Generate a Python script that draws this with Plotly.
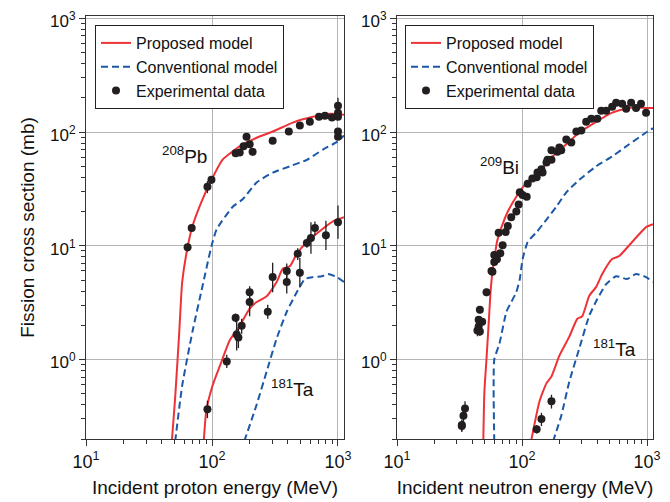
import plotly.graph_objects as go
import math

# ---------------- data ----------------
# Left panel: proton-induced fission
pb_prop_E = [48, 51, 55, 58, 64, 70, 82, 99, 121, 166, 226, 304, 438, 632, 864, 1116]
pb_prop_S = [0.19, 0.46, 1.76, 4.8, 9.7, 14.9, 24, 38, 57, 75, 89, 101, 121, 136, 145, 142]

pb_conv_E = [51, 58, 70, 84, 99, 109, 146, 175, 226, 304, 415, 567, 759, 982, 1116]
pb_conv_S = [0.19, 0.59, 1.76, 4.4, 9.9, 14, 22, 25.6, 36, 44, 50, 57, 70, 82, 93]

pb_exp_E = [64, 69, 92, 99, 154, 166, 178, 188, 199, 210, 303, 407, 498, 598, 706, 788, 895, 1000, 1000, 1000, 1000, 1000]
pb_exp_S = [9.7, 14.3, 33, 38, 65, 66, 75, 91, 78, 67, 84, 101, 114, 123, 136, 139, 134, 170, 148, 136, 101, 91]
pb_err_up = [0.8, 1.0, 4, 3, 4, 4, 5, 6, 5, 5, 5, 5, 6, 6, 6, 6, 6, 30, 10, 8, 6, 6]
pb_err_dn = [0.8, 1.0, 4, 3, 4, 4, 5, 6, 5, 5, 5, 5, 6, 6, 6, 6, 6, 20, 10, 8, 6, 6]

ta_p_prop_E = [86, 90, 101, 119, 138, 166, 199, 226, 272, 326, 365, 415, 471, 566, 719, 912, 1116]
ta_p_prop_S = [0.19, 0.35, 0.59, 0.96, 1.47, 1.98, 2.8, 3.2, 3.6, 4.8, 6.3, 6.6, 8.5, 10.8, 13.5, 16.4, 17.8]

ta_p_conv_E = [180, 226, 272, 326, 392, 471, 546, 632, 746, 832, 982, 1116]
ta_p_conv_S = [0.19, 0.4, 0.79, 1.53, 2.63, 3.9, 5.1, 5.3, 5.4, 5.65, 5.3, 4.8]

ta_p_exp_E = [92, 131, 154, 157, 162, 172, 199, 199, 277, 303, 392, 392, 479, 498, 566, 610, 656, 802, 1000]
ta_p_exp_S = [0.365, 0.96, 2.33, 1.66, 1.56, 1.98, 3.2, 3.9, 2.63, 5.3, 4.8, 6.0, 8.5, 5.8, 10.6, 11.7, 14.3, 12.4, 16.1]
ta_p_err_up = [0.07, 0.14, 0.2, 0.63, 0.3, 0.3, 0.8, 0.5, 0.4, 1.8, 1.0, 1.0, 1.0, 2.0, 1.0, 4.4, 2.0, 4.2, 6.5]
ta_p_err_dn = [0.06, 0.12, 0.2, 0.46, 0.3, 0.3, 0.8, 0.5, 0.35, 1.4, 1.0, 1.0, 1.0, 1.5, 1.0, 3.2, 2.0, 3.2, 4.6]

# Right panel: neutron-induced fission
bi_prop_E = [49, 50, 52, 54, 56, 58, 60, 63, 69, 77, 90, 109, 138, 175, 226, 287, 392, 526, 719, 982, 1116]
bi_prop_S = [0.19, 0.52, 1.02, 2.0, 3.9, 5.9, 7.6, 10.8, 14.9, 20, 27, 36, 45, 61, 78, 99, 123, 148, 163, 163, 163]

bi_conv_E = [60, 60, 66, 75, 82, 90, 96, 101, 111, 131, 157, 188, 226, 287, 392, 526, 719, 982, 1116]
bi_conv_S = [0.19, 1.0, 1.38, 2.63, 3.2, 3.9, 5.1, 7.6, 10.8, 13.2, 17, 22, 29.5, 38, 50, 61, 78, 99, 108]

bi_exp_E = [33, 33, 34, 35, 44, 45, 45, 46, 46, 48, 52, 57, 58, 60, 60, 63, 65, 67, 70, 74,
            77, 82, 90, 94, 96, 101, 109, 111, 121, 131, 133, 143, 146, 157, 160, 172, 172, 192, 199, 206,
            226, 248, 272, 298, 326, 358, 400, 430, 471, 526, 566, 632, 681, 746, 817, 895, 982]
bi_exp_S = [0.26, 0.265, 0.32, 0.37, 1.8, 1.95, 2.24, 1.76, 2.74, 2.15, 3.9, 6.0, 5.9, 7.2, 8.3, 7.6, 13, 8.6, 10.1, 13.2,
            14.9, 17.8, 20, 23, 29.5, 28, 27, 35, 39, 40, 44, 47, 44, 54, 57, 57, 69, 67, 73, 69,
            86, 81, 101, 103, 123, 131, 131, 154, 154, 167, 181, 177, 160, 181, 163, 177, 148]
bi_err = [0.03, 0.03, 0.04, 0.06, 0.2, 0.15, 0.15, 0.15, 0.2, 0.15, 0.3, 0.4, 0.4, 0.5, 0.5, 0.5, 0.8, 0.5, 0.6, 0.8,
          0.8, 1.0, 1.0, 1.2, 1.5, 1.5, 1.5, 2, 2, 2, 3, 3, 3, 3, 3, 3, 4, 3, 3, 3,
          4, 4, 4, 4, 5, 5, 5, 5, 5, 6, 6, 6, 6, 6, 6, 6, 6]

ta_n_prop_E = [118, 138, 157, 172, 199, 239, 277, 303, 345, 392, 438, 526, 598, 760, 982, 1116]
ta_n_prop_S = [0.19, 0.43, 0.62, 0.71, 1.08, 1.59, 2.28, 2.4, 3.63, 4.35, 5.65, 7.65, 8.1, 10.8, 14.6, 15.5]

ta_n_conv_E = [177, 206, 239, 287, 345, 400, 471, 566, 693, 817, 982, 1116]
ta_n_conv_S = [0.19, 0.32, 0.64, 1.25, 2.43, 3.4, 4.6, 5.4, 5.1, 5.65, 5.3, 4.8]

ta_n_exp_E = [131, 143, 172]
ta_n_exp_S = [0.244, 0.30, 0.43]
ta_n_err = [0.02, 0.04, 0.06]

major_ticks = [10, 100, 1000]
major_text = ["10<sup>1</sup>", "10<sup>2</sup>", "10<sup>3</sup>"]
y_major = [1, 10, 100, 1000]
y_major_text = ["10<sup>0</sup>", "10<sup>1</sup>", "10<sup>2</sup>", "10<sup>3</sup>"]

legend_names = ["Proposed model", "Conventional model", "Experimental data"]
x_titles = ["Incident proton energy (MeV)", "Incident neutron energy (MeV)"]
y_title = "Fission cross section (mb)"

# ---------------- styling ----------------
RED = "#ee3338"
BLUE = "#1b58a8"
DOT = "#231f20"
GRID = "#b4b4b4"
AX = "#333333"
FONT = "Liberation Sans, Arial, sans-serif"

fig = go.Figure()


def add_line(x, y, color, dash, xa, ya, name, legend, show):
    fig.add_trace(go.Scatter(
        x=x, y=y, mode="lines", name=name, legend=legend, showlegend=show,
        line=dict(color=color, width=2, dash=dash, shape="spline", smoothing=0.5),
        xaxis=xa, yaxis=ya, hoverinfo="skip"))


def add_pts(x, y, up, dn, xa, ya, name, legend, show):
    fig.add_trace(go.Scatter(
        x=x, y=y, mode="markers", name=name, legend=legend, showlegend=show,
        marker=dict(color=DOT, size=8),
        error_y=dict(type="data", array=up, arrayminus=dn, color=DOT,
                     thickness=1.3, width=0, visible=True),
        xaxis=xa, yaxis=ya))


# left panel
add_line(pb_prop_E, pb_prop_S, RED, "solid", "x", "y", legend_names[0], "legend", True)
add_line(pb_conv_E, pb_conv_S, BLUE, "7px,4px", "x", "y", legend_names[1], "legend", True)
add_line(ta_p_prop_E, ta_p_prop_S, RED, "solid", "x", "y", legend_names[0], "legend", False)
add_line(ta_p_conv_E, ta_p_conv_S, BLUE, "7px,4px", "x", "y", legend_names[1], "legend", False)
add_pts(pb_exp_E, pb_exp_S, pb_err_up, pb_err_dn, "x", "y", legend_names[2], "legend", True)
add_pts(ta_p_exp_E, ta_p_exp_S, ta_p_err_up, ta_p_err_dn, "x", "y", legend_names[2], "legend", False)

# right panel
add_line(bi_prop_E, bi_prop_S, RED, "solid", "x2", "y2", legend_names[0], "legend2", True)
add_line(bi_conv_E, bi_conv_S, BLUE, "7px,4px", "x2", "y2", legend_names[1], "legend2", True)
add_line(ta_n_prop_E, ta_n_prop_S, RED, "solid", "x2", "y2", legend_names[0], "legend2", False)
add_line(ta_n_conv_E, ta_n_conv_S, BLUE, "7px,4px", "x2", "y2", legend_names[1], "legend2", False)
add_pts(bi_exp_E, bi_exp_S, bi_err, bi_err, "x2", "y2", legend_names[2], "legend2", True)
add_pts(ta_n_exp_E, ta_n_exp_S, ta_n_err, ta_n_err, "x2", "y2", legend_names[2], "legend2", False)

W, H = 670, 502
OFF = 8  # page body margin offset
x_minor = [m * d for d in (10, 100) for m in range(2, 10)]
y_minor = [m * d for d in (0.1, 1, 10, 100) for m in range(2, 10)]
x_range = [1, math.log10(1116)]
y_range = [math.log10(0.2), 3.02]


def xaxis(domain, title, anchor):
    return dict(type="log", range=x_range, domain=domain, anchor=anchor, automargin=False,
                tickmode="array", tickvals=major_ticks, ticktext=major_text,
                ticklabeloverflow="allow",
                ticks="outside", ticklen=6, tickwidth=1.2, tickcolor=AX,
                showline=True, linecolor=AX, linewidth=1.2, mirror=True,
                showgrid=True, gridcolor=GRID, gridwidth=1.3, zeroline=False,
                minor=dict(tickmode="array", tickvals=x_minor, ticks="outside",
                           ticklen=4, tickwidth=1, tickcolor=AX, showgrid=False),
                tickfont=dict(size=18, color="#111"),
                title=dict(text=title, font=dict(size=19, color="#111"), standoff=9))


def yaxis(title, anchor):
    return dict(type="log", range=y_range, domain=[(H - 439 + OFF) / H, (H - 16 + OFF) / H],
                anchor=anchor, automargin=False,
                tickmode="array", tickvals=y_major, ticktext=y_major_text,
                ticklabeloverflow="allow", ticklabelshift=3,
                ticks="outside", ticklen=6, tickwidth=1.2, tickcolor=AX,
                showline=True, linecolor=AX, linewidth=1.2, mirror=True,
                showgrid=True, gridcolor=GRID, gridwidth=1.3, zeroline=False,
                minor=dict(tickmode="array", tickvals=y_minor, ticks="outside",
                           ticklen=4, tickwidth=1, tickcolor=AX, showgrid=False),
                tickfont=dict(size=17, color="#111"),
                title=dict(text=title, font=dict(size=19, color="#111"), standoff=10))


legend_style = dict(xanchor="left", yanchor="top", bgcolor="white",
                    bordercolor="#222", borderwidth=1,
                    font=dict(size=16, color="#111", family=FONT),
                    tracegroupgap=0, itemwidth=30)

fig.update_layout(
    width=W, height=H, autosize=False,
    margin=dict(l=0, r=0, t=0, b=0),
    paper_bgcolor="white", plot_bgcolor="white",
    font=dict(family=FONT, color="#111"),
    xaxis=xaxis([(86 - OFF) / W, (344 - OFF) / W], x_titles[0], "y"),
    yaxis=yaxis(y_title, "x"),
    xaxis2=xaxis([(397 - OFF) / W, (653 - OFF) / W], x_titles[1], "y2"),
    yaxis2=yaxis("", "x2"),
    legend=dict(x=(95 - OFF) / W, y=1 - (25 - OFF) / H, **legend_style),
    legend2=dict(x=(405 - OFF) / W, y=1 - (25 - OFF) / H, **legend_style),
)

labels = [("<sup>208</sup>Pb", 60, 63, "x", "y"),
          ("<sup>181</sup>Ta", 437, 0.56, "x", "y"),
          ("<sup>209</sup>Bi", 66, 50, "x2", "y2"),
          ("<sup>181</sup>Ta", 546, 1.27, "x2", "y2")]
for txt, xv, yv, xr, yr in labels:
    fig.add_annotation(text=txt, x=math.log10(xv), y=math.log10(yv), xref=xr, yref=yr,
                       showarrow=False, font=dict(size=19, color="#111"))

fig.write_html("out.html")
